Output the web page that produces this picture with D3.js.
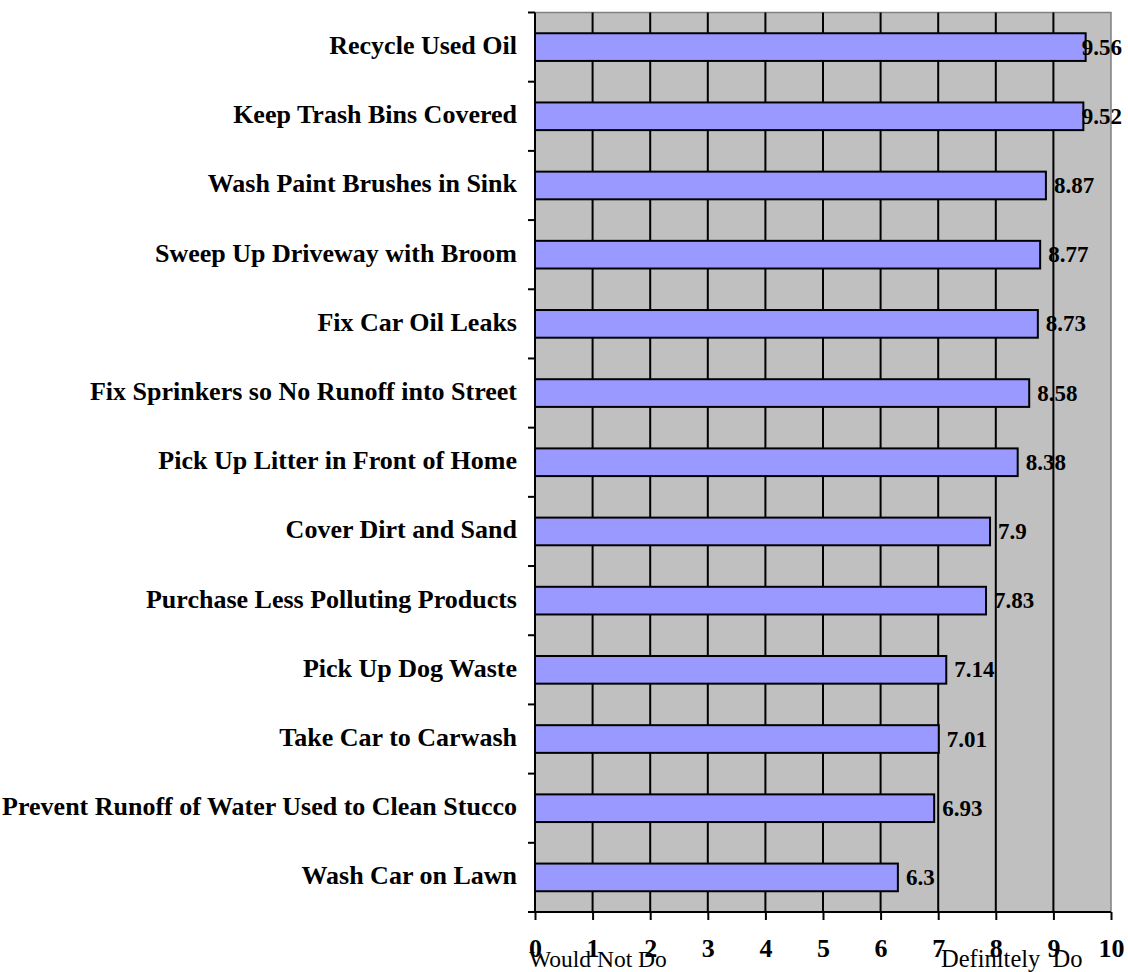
<!DOCTYPE html>
<html>
<head>
<meta charset="utf-8">
<script src="https://cdn.jsdelivr.net/npm/d3@7"></script>
<style>
  html, body { margin: 0; padding: 0; background: #ffffff; }
  svg { display: block; }
  text { font-family: "Liberation Serif", "Times New Roman", serif; fill: #000; }
  .xtick text { font-size: 26px; font-weight: bold; }
</style>
</head>
<body>
<svg id="chart" width="1128" height="972"></svg>
<script>
const categories = [
  "Recycle Used Oil",
  "Keep Trash Bins Covered",
  "Wash Paint Brushes in Sink",
  "Sweep Up Driveway with Broom",
  "Fix Car Oil Leaks",
  "Fix Sprinkers so No Runoff into Street",
  "Pick Up Litter in Front of Home",
  "Cover Dirt and Sand",
  "Purchase Less Polluting Products",
  "Pick Up Dog Waste",
  "Take Car to Carwash",
  "Prevent Runoff of Water Used to Clean Stucco",
  "Wash Car on Lawn"
];
const values = [9.56, 9.52, 8.87, 8.77, 8.73, 8.58, 8.38, 7.9, 7.83, 7.14, 7.01, 6.93, 6.3];
const xTicks = [0, 1, 2, 3, 4, 5, 6, 7, 8, 9, 10];
const axisTitleLow = "Would Not Do";
const axisTitleHigh = "Definitely\u00A0\u00A0Do";

const svg = d3.select("#chart");
const plot = { left: 535, right: 1111, top: 12.5, bottom: 912 };

const x = d3.scaleLinear().domain([0, 10]).range([plot.left, plot.right]);
const y = d3.scaleBand().domain(categories).range([plot.top, plot.bottom])
  .paddingInner(0.6).paddingOuter(0.3);
const yEdge = d3.scaleLinear().domain([0, categories.length]).range([plot.top, plot.bottom]);

// plot background
svg.append("rect")
  .attr("x", plot.left).attr("y", plot.top)
  .attr("width", plot.right - plot.left).attr("height", plot.bottom - plot.top)
  .attr("fill", "#C0C0C0");

// border top/right (gray)
svg.append("path")
  .attr("d", `M${plot.left},${plot.top}H${plot.right}V${plot.bottom}`)
  .attr("fill", "none").attr("stroke", "#808080").attr("stroke-width", 1.5);

// vertical gridlines
svg.append("g").selectAll("line")
  .data(xTicks.filter(t => t > 0 && t < 10))
  .join("line")
  .attr("x1", d => x(d)).attr("x2", d => x(d))
  .attr("y1", plot.top).attr("y2", plot.bottom)
  .attr("stroke", "#000").attr("stroke-width", 2);

// bars
svg.append("g").selectAll("rect")
  .data(values)
  .join("rect")
  .attr("x", x(0))
  .attr("y", (d, i) => y(categories[i]))
  .attr("width", d => x(d) - x(0))
  .attr("height", y.bandwidth())
  .attr("fill", "#9999FF")
  .attr("stroke", "#000").attr("stroke-width", 2);

// x axis
const xAxis = d3.axisBottom(x).tickValues(xTicks).tickSize(8).tickPadding(26).tickFormat(d3.format("d"));
const gx = svg.append("g").attr("class", "xtick")
  .attr("transform", `translate(0,${plot.bottom})`).call(xAxis)
  .attr("font-size", null).attr("font-family", null);
gx.select(".domain").attr("stroke", "#000").attr("stroke-width", 2).attr("d", `M${plot.left},0H${plot.right}`);
gx.selectAll(".tick line").attr("stroke", "#000").attr("stroke-width", 2);
gx.selectAll(".tick text").attr("dy", null).attr("y", 45);

// y axis line and ticks at category boundaries
svg.append("line")
  .attr("x1", plot.left).attr("x2", plot.left)
  .attr("y1", plot.top).attr("y2", plot.bottom)
  .attr("stroke", "#000").attr("stroke-width", 2);
svg.append("g").selectAll("line")
  .data(d3.range(categories.length + 1))
  .join("line")
  .attr("x1", plot.left - 7).attr("x2", plot.left)
  .attr("y1", d => yEdge(d)).attr("y2", d => yEdge(d))
  .attr("stroke", "#000").attr("stroke-width", 2);

// category labels
svg.append("g").selectAll("text")
  .data(categories)
  .join("text")
  .attr("x", 517)
  .attr("y", d => y(d) + y.bandwidth() / 2 + 7)
  .attr("text-anchor", "end")
  .attr("font-size", 26).attr("font-weight", "bold")
  .text(d => d);

// value labels
const vl = svg.append("g").selectAll("text")
  .data(values)
  .join("text")
  .attr("y", (d, i) => y(categories[i]) + y.bandwidth() / 2 + 7.5)
  .attr("font-size", 23).attr("font-weight", "bold")
  .text(d => String(d));
vl.each(function(d) {
  const w = this.getComputedTextLength();
  const px = Math.min(x(d) + 8, 1122 - w);
  d3.select(this).attr("x", px);
});

// axis titles
svg.append("text").attr("x", 529).attr("y", 967)
  .attr("font-size", 23.5).text(axisTitleLow);
svg.append("text").attr("x", 941).attr("y", 967)
  .attr("font-size", 24.5).text(axisTitleHigh);
</script>
</body>
</html>
